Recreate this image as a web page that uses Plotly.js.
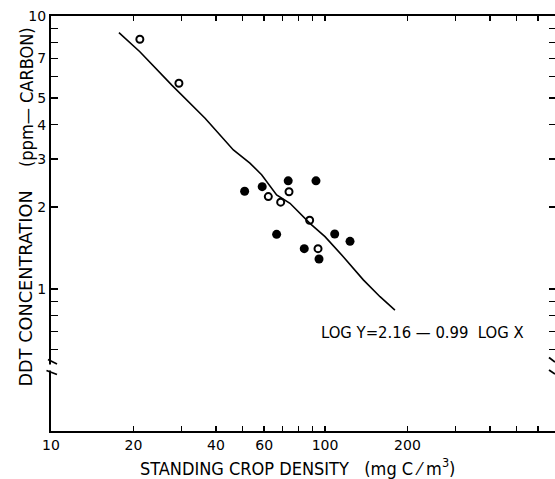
<!DOCTYPE html>
<html>
<head>
<meta charset="utf-8">
<script src="https://cdn.plot.ly/plotly-3.0.1.min.js"></script>
<style>html,body{margin:0;padding:0;background:#fff;}#chart{width:555px;height:479px;}</style>
</head>
<body>
<div id="chart"></div>
<script>
// Data
const openX = [21.1, 29.3, 62.1, 68.9, 73.9, 87.9, 94.3];
const openY = [8.22, 5.67, 2.18, 2.08, 2.27, 1.785, 1.405];
const filledX = [50.9, 59.0, 73.4, 92.7, 66.6, 108.5, 123.4, 84.0, 95.1];
const filledY = [2.28, 2.37, 2.49, 2.49, 1.586, 1.59, 1.495, 1.405, 1.288];
// hand-drawn regression line
const fitX = [17.7, 21.1, 27.6, 36.5, 46.3, 53.2, 58.7, 66.6, 74.5, 88.1, 100, 116.6, 138, 158.8, 180];
const fitY = [8.69, 7.40, 5.58, 4.22, 3.23, 2.89, 2.62, 2.21, 2.06, 1.74, 1.555, 1.313, 1.08, 0.937, 0.837];

const xTickVals = [10, 20, 40, 60, 100, 200];
const xTickText = ['10', '20', '40', '60', '100', '200'];
const xMinorVals = [30, 50, 70, 80, 90, 300, 400, 500, 600];
const yTickVals = [1, 2, 3, 4, 5, 7, 10];
const yTickText = ['1', '2', '3', '4', '5', '7', '10'];
const yMinorVals = [0.6, 0.7, 0.8, 0.9, 6, 8, 9];
const yRightVals = [0.6, 0.7, 0.8, 0.9, 1, 2, 3, 4, 5, 6, 7, 8, 9, 10];

const equationText = 'LOG Y=2.16 — 0.99  LOG X';
const xTitle = 'STANDING CROP DENSITY   (mg C ⁄ m<sup>3</sup>)';
const yTitleMain = 'DDT CONCENTRATION';
const yTitleUnit = '(ppm— CARBON)';

const FONT = 'DejaVu Sans, sans-serif';
const FONTC = 'DejaVu Sans Condensed, DejaVu Sans, sans-serif';

// plot-area frame in pixels (left 51, right 555, top 16, bottom 431)
const L = 51, R = 555, T = 16, B = 431;
const px = v => (v - L) / (R - L);
const py = v => (B - v) / (B - T);

const traces = [
  {
    x: fitX, y: fitY, type: 'scatter', mode: 'lines',
    line: {color: '#000', width: 1.6}, hoverinfo: 'skip', yaxis: 'y2', showlegend: false
  },
  {
    x: filledX, y: filledY, type: 'scatter', mode: 'markers',
    marker: {symbol: 'circle', size: 9, color: '#000', line: {width: 0}}, showlegend: false
  },
  {
    x: openX, y: openY, type: 'scatter', mode: 'markers',
    marker: {symbol: 'circle-open', size: 7, color: '#000', line: {width: 2, color: '#000'}}, showlegend: false
  }
];

const brk = (x0, y0, x1, y1) => ({type: 'line', xref: 'paper', yref: 'paper', layer: 'above',
  x0: px(x0), y0: py(y0), x1: px(x1), y1: py(y1), line: {color: '#000', width: 1.8}});

const layout = {
  width: 555, height: 479,
  margin: {l: L, r: 555 - R, t: T, b: 479 - B, pad: 0},
  paper_bgcolor: '#fff', plot_bgcolor: '#fff',
  font: {family: FONT, color: '#000', size: 14},
  showlegend: false,
  xaxis: {
    type: 'log', range: [1, 1 + (R - L) / 274],
    tickmode: 'array', tickvals: xTickVals, ticktext: xTickText,
    ticks: 'inside', ticklen: 5, tickwidth: 1.5, tickcolor: '#000',
    minor: {tickmode: 'array', tickvals: xMinorVals, ticks: 'inside', ticklen: 5, tickwidth: 1.5, tickcolor: '#000', showgrid: false},
    showline: true, linewidth: 2, linecolor: '#000', mirror: 'ticks',
    showgrid: false, zeroline: false,
    tickfont: {family: FONT, size: 14, color: '#000'}
  },
  yaxis: {
    type: 'log', range: [1 - (B - T) / 273, 1],
    tickmode: 'array', tickvals: yTickVals, ticktext: yTickText,
    ticks: 'inside', ticklen: 7, tickwidth: 1.5, tickcolor: '#000',
    minor: {tickmode: 'array', tickvals: yMinorVals, ticks: 'inside', ticklen: 7, tickwidth: 1.5, tickcolor: '#000', showgrid: false},
    showline: true, linewidth: 2, linecolor: '#000', mirror: false,
    showgrid: false, zeroline: false,
    tickfont: {family: FONT, size: 14, color: '#000'}
  },
  yaxis2: {
    type: 'log', range: [1 - (B - T) / 273, 1], overlaying: 'y', side: 'right', anchor: 'x',
    tickmode: 'array', tickvals: yRightVals,
    ticks: 'inside', ticklen: 6, tickwidth: 1.5, tickcolor: '#000',
    showline: false, showgrid: false, zeroline: false, showticklabels: false
  },
  annotations: [
    {text: equationText, xref: 'paper', yref: 'paper', x: px(422), y: py(332),
     xanchor: 'center', yanchor: 'middle', showarrow: false,
     font: {family: FONTC, size: 16.5, color: '#000'}},
    {text: xTitle, xref: 'paper', yref: 'paper', x: px(297.5), y: py(467),
     xanchor: 'center', yanchor: 'middle', showarrow: false,
     font: {family: FONTC, size: 18, color: '#000'}},
    {text: yTitleMain, xref: 'paper', yref: 'paper', x: px(25), y: py(288.5), textangle: -90,
     xanchor: 'center', yanchor: 'middle', showarrow: false,
     font: {family: FONT, size: 17.7, color: '#000'}},
    {text: yTitleUnit, xref: 'paper', yref: 'paper', x: px(26), y: py(97), textangle: -90,
     xanchor: 'center', yanchor: 'middle', showarrow: false,
     font: {family: FONTC, size: 18, color: '#000'}}
  ],
  shapes: [
    {type: 'rect', xref: 'paper', yref: 'paper', layer: 'above',
     x0: px(48), x1: px(54), y0: py(364.5), y1: py(370.5), fillcolor: '#fff', line: {width: 0}},
    brk(48, 359.5, 57, 364),
    brk(46.5, 370.5, 57, 374.5),
    brk(549, 357.5, 555, 362),
    brk(549, 370, 555, 374)
  ]
};

Plotly.newPlot('chart', traces, layout, {staticPlot: true, displayModeBar: false});
</script>
</body>
</html>
